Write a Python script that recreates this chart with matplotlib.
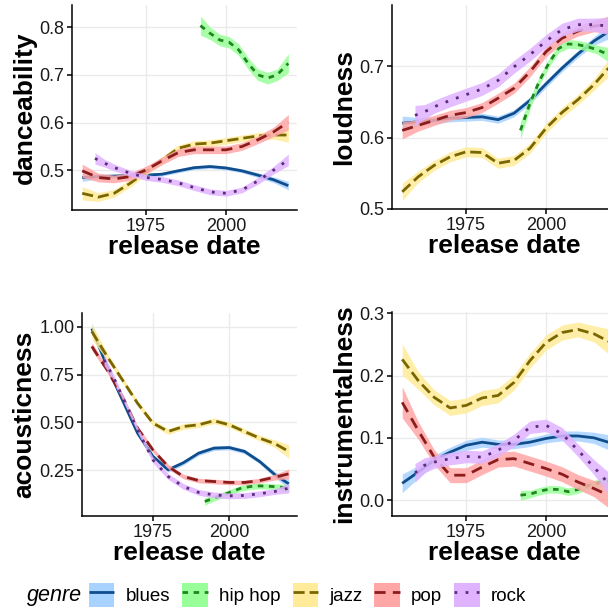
import matplotlib.pyplot as plt
from matplotlib.patches import Patch
from matplotlib.lines import Line2D
from matplotlib.ticker import FormatStrFormatter

plt.rcParams['font.family'] = ['Liberation Sans', 'DejaVu Sans']

genres = ['blues', 'hip hop', 'jazz', 'pop', 'rock']

# year grids the values were read at
yr_main = [1955, 1960, 1965, 1970, 1975, 1980, 1985, 1990, 1995, 2000, 2005, 2010, 2015, 2019.5]
yr_rock = [1959, 1962, 1965, 1970, 1975, 1980, 1985, 1990, 1995, 2000, 2005, 2010, 2015, 2019.5]
yr_hh = [1992, 1995, 1998, 2001, 2004, 2007, 2010, 2013, 2016, 2019.5]

# danceability
dance_blues = [.485, .487, .488, .4895, .490, .492, .499, .5056, .508, .505, .499, .490, .480, .468]
dance_blues_se = [.008, .005, .004, .004, .004, .004, .004, .004, .004, .004, .004, .005, .006, .009]
dance_hh = [.803, .787, .773, .768, .752, .723, .700, .693, .700, .724]
dance_hh_se = [.02, .013, .012, .012, .012, .012, .012, .012, .012, .02]
dance_jazz = [.452, .444, .452, .473, .497, .522, .546, .555, .557, .562, .567, .572, .574, .574]
dance_jazz_se = [.014, .009, .008, .008, .007, .007, .007, .007, .007, .007, .007, .007, .009, .015]
dance_pop = [.499, .485, .482, .487, .501, .520, .537, .543, .543, .543, .550, .564, .581, .601]
dance_pop_se = [.014, .009, .008, .008, .008, .008, .008, .008, .008, .008, .008, .008, .010, .016]
dance_rock = [.525, .515, .506, .494, .485, .481, .474, .464, .455, .452, .459, .478, .501, .522]
dance_rock_se = [.012, .008, .007, .006, .006, .006, .006, .006, .006, .006, .006, .007, .008, .012]

# loudness
loud_blues = [.620, .622, .624, .627, .628, .629, .625, .634, .652, .675, .697, .717, .735, .748]
loud_blues_se = [.010, .006, .005, .005, .005, .005, .005, .005, .005, .005, .005, .005, .006, .010]
loud_hh = [.610, .648, .680, .705, .725, .731, .730, .727, .723, .716]
loud_hh_se = [.012, .008, .006, .006, .006, .006, .006, .006, .006, .010]
loud_jazz = [.524, .545, .561, .573, .580, .579, .564, .568, .585, .613, .635, .653, .674, .697]
loud_jazz_se = [.012, .008, .007, .007, .007, .007, .007, .007, .007, .007, .007, .007, .008, .012]
loud_pop = [.610, .617, .624, .631, .635, .642, .655, .669, .692, .720, .739, .749, .756, .758]
loud_pop_se = [.012, .008, .007, .007, .007, .007, .007, .007, .007, .007, .007, .007, .008, .012]
loud_rock = [.631, .636, .643, .652, .660, .668, .680, .699, .716, .735, .751, .758, .758, .756]
loud_rock_se = [.014, .010, .009, .009, .009, .009, .009, .009, .009, .009, .009, .009, .009, .012]

# acousticness
acou_blues = [.99, .792, .618, .444, .323, .253, .290, .340, .366, .369, .349, .296, .227, .180]
acou_blues_se = [.03, .015, .012, .012, .012, .012, .012, .012, .012, .012, .012, .012, .015, .025]
acou_hh = [.088, .105, .123, .140, .158, .166, .169, .167, .164, .157]
acou_hh_se = [.02, .015, .015, .015, .015, .015, .015, .015, .015, .02]
acou_jazz = [.975, .845, .723, .600, .497, .453, .479, .488, .509, .488, .453, .418, .389, .349]
acou_jazz_se = [.04, .02, .015, .015, .015, .015, .015, .015, .015, .015, .015, .015, .02, .035]
acou_pop = [.897, .775, .636, .470, .357, .270, .218, .197, .192, .187, .187, .197, .215, .232]
acou_pop_se = [.02, .015, .012, .012, .012, .012, .012, .012, .012, .012, .012, .012, .015, .025]
acou_rock = [.827, .740, .636, .462, .305, .218, .166, .135, .122, .117, .119, .128, .140, .157]
acou_rock_se = [.03, .015, .015, .015, .015, .015, .015, .015, .015, .015, .015, .015, .015, .025]

# instrumentalness
inst_blues = [.027, .045, .064, .077, .088, .093, .0895, .0895, .093, .099, .103, .103, .100, .093]
inst_blues_se = [.015, .010, .008, .008, .008, .008, .007, .007, .007, .007, .008, .008, .009, .012]
inst_hh = [.008, .0096, .0144, .0176, .017, .0135, .017, .023, .027, .031]
inst_hh_se = [.008, .006, .006, .006, .006, .006, .006, .006, .006, .008]
inst_jazz = [.226, .192, .165, .148, .152, .164, .168, .189, .224, .253, .269, .274, .267, .255]
inst_jazz_se = [.025, .014, .012, .012, .012, .012, .012, .012, .012, .012, .012, .012, .013, .02]
inst_pop = [.157, .112, .069, .040, .040, .053, .065, .0666, .0586, .0506, .0416, .029, .0186, .008]
inst_pop_se = [.025, .014, .012, .012, .012, .012, .012, .012, .012, .012, .012, .012, .013, .02]
inst_rock = [.0437, .056, .061, .0666, .070, .069, .080, .096, .117, .120, .1066, .080, .053, .027]
inst_rock_se = [.015, .012, .010, .010, .010, .010, .010, .010, .010, .010, .010, .010, .012, .018]

line_colors = ['#0f4d8c', '#1d861d', '#7a6600', '#8b1c1c', '#5e2a7e']
fill_colors = ['#a8d2ff', '#99ff99', '#ffeb99', '#ffa6a6', '#e0b3ff']
dash_styles = [None, (2, 2), (4, 1.8), (4, 2.6), (1, 3)]

panels = [
    ('danceability', [0.1184, 0.6557, 0.370, 0.336], (0.417, 0.846), [0.5, 0.6, 0.7, 0.8], '%.1f',
     [(dance_blues, dance_blues_se), (dance_hh, dance_hh_se), (dance_jazz, dance_jazz_se),
      (dance_pop, dance_pop_se), (dance_rock, dance_rock_se)]),
    ('loudness', [0.6447, 0.6574, 0.370, 0.335], (0.5, 0.786), [0.5, 0.6, 0.7], '%.1f',
     [(loud_blues, loud_blues_se), (loud_hh, loud_hh_se), (loud_jazz, loud_jazz_se),
      (loud_pop, loud_pop_se), (loud_rock, loud_rock_se)]),
    ('acousticness', [0.1349, 0.1541, 0.3536, 0.3333], (0.012, 1.073), [0.25, 0.5, 0.75, 1.0], '%.2f',
     [(acou_blues, acou_blues_se), (acou_hh, acou_hh_se), (acou_jazz, acou_jazz_se),
      (acou_pop, acou_pop_se), (acou_rock, acou_rock_se)]),
    ('instrumentalness', [0.6447, 0.1541, 0.370, 0.3344], (-0.0255, 0.302), [0.0, 0.1, 0.2, 0.3], '%.1f',
     [(inst_blues, inst_blues_se), (inst_hh, inst_hh_se), (inst_jazz, inst_jazz_se),
      (inst_pop, inst_pop_se), (inst_rock, inst_rock_se)]),
]
years = [yr_main, yr_hh, yr_main, yr_main, yr_rock]

fig = plt.figure(figsize=(6.08, 6.10), dpi=100)

for name, rect, ylim, yticks, fmt, series in panels:
    ax = fig.add_axes(rect)
    for i, (vals, se) in enumerate(series):
        x = years[i]
        lo = [v - s for v, s in zip(vals, se)]
        hi = [v + s for v, s in zip(vals, se)]
        ax.fill_between(x, lo, hi, color=fill_colors[i], alpha=0.85, linewidth=0, zorder=2 + 2 * i)
        line, = ax.plot(x, vals, color=line_colors[i], lw=2.0, solid_capstyle='butt',
                        dash_capstyle='butt', solid_joinstyle='round', zorder=3 + 2 * i)
        if dash_styles[i]:
            line.set_dashes(dash_styles[i])
    ax.set_xlim(1951.8, 2022.2)
    ax.set_ylim(*ylim)
    ax.set_xticks([1975, 2000])
    ax.set_yticks(yticks)
    ax.yaxis.set_major_formatter(FormatStrFormatter(fmt))
    ax.grid(color='#ebebeb', linewidth=1.0)
    ax.set_axisbelow(True)
    for s in ['top', 'right']:
        ax.spines[s].set_visible(False)
    for s in ['left', 'bottom']:
        ax.spines[s].set_linewidth(1.1)
    ax.tick_params(length=3.5, width=1.1, labelsize=13, labelcolor='#1a1a1a', pad=2)
    ax.set_xlabel('release date', fontsize=19, fontweight='bold', labelpad=0)
    ax.set_ylabel(name, fontsize=19, fontweight='bold', labelpad=2)

handles = []
for i in range(len(genres)):
    ln = Line2D([], [], color=line_colors[i], lw=2.0, solid_capstyle='butt', dash_capstyle='butt')
    if dash_styles[i]:
        ln.set_dashes(dash_styles[i])
    handles.append((Patch(facecolor=fill_colors[i], edgecolor='none'), ln))

fig.text(27 / 608, 15 / 610, 'genre', fontsize=15.5, style='italic', va='center', ha='left')
fig.legend(handles, genres, loc='center left', bbox_to_anchor=(89 / 608, 15 / 610), ncol=5,
           frameon=False, fontsize=13.5, handlelength=1.35, handleheight=1.55, handletextpad=0.6,
           columnspacing=0.65, borderpad=0, borderaxespad=0)

fig.savefig('out.png', dpi=100)
